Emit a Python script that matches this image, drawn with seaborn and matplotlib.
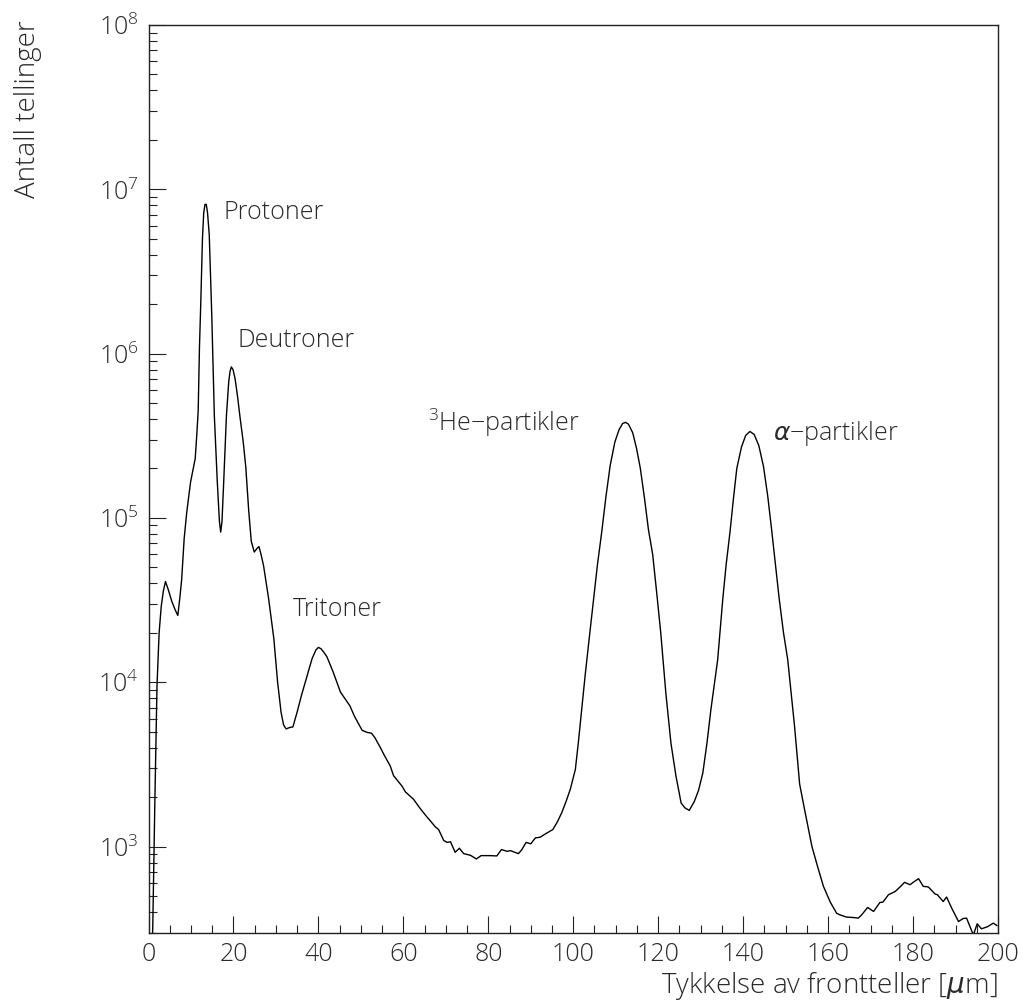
import matplotlib
matplotlib.use("Agg")
import matplotlib.pyplot as plt
import matplotlib.ticker as mticker
import seaborn as sns
import pandas as pd

# ---- data ----
thickness_um = [
    0.5, 1.0, 1.5, 2.0, 2.5, 3.0, 3.5, 4.0, 4.6, 5.5, 6.3, 6.9, 7.4, 7.8, 8.4, 9.0, 9.9,
    11.0, 11.4, 11.7, 12.0, 12.3, 12.7, 13.0, 13.3, 13.6, 13.9, 14.3, 14.9, 15.5, 16.2, 16.7,
    17.0, 17.3, 17.7, 18.35, 18.9, 19.2, 19.5, 19.9, 20.4, 21.0, 21.5, 22.3, 22.9, 23.6, 24.2, 24.9,
    25.5, 26.0, 26.5, 27.1, 28.3, 29.5, 30.4, 31.2, 31.8, 32.4, 33.2, 34.0, 35.0, 36.0,
    36.9, 38.5, 39.4, 40.0, 40.6, 41.3, 42.0, 43.5, 45.2, 47.4, 48.5, 50.3, 51.5, 52.5, 53.3,
    54.6, 55.5, 56.9, 57.7, 59.0, 59.7, 60.5, 62.4, 64.0, 65.5, 66.4, 67.5, 68.3, 69.5,
    70.3, 71.1, 72.2, 73.2, 74.2, 75.8, 77.2, 78.3, 80.5, 82.0, 83.1, 84.4, 85.2, 87.1,
    87.9, 88.9, 90.0, 91.1, 92.2, 93.8, 95.2, 96.3, 97.3, 98.3, 99.3, 100.5, 101.2, 102.0,
    102.8, 103.6, 104.8, 105.7, 106.7, 107.7, 108.7, 109.8, 110.8, 111.6, 112.3, 113.0,
    114.0, 114.9, 115.8, 116.8, 117.7, 118.7, 119.7, 120.6, 121.8, 123.0, 124.2, 125.4,
    126.3, 127.3, 128.5, 129.5, 130.5, 131.5, 132.4, 134.0, 135.2, 136.0, 136.9, 137.7,
    138.5, 139.6, 140.6, 141.6, 142.6, 143.7, 144.8, 145.8, 146.7, 147.5, 148.5, 149.5,
    150.5, 152.1, 153.3, 154.6, 156.2, 157.5, 158.9, 160.5, 162.0, 162.8, 164.4, 166.0,
    167.1, 167.9, 169.3, 170.7, 172.2, 172.9, 174.2, 175.8, 177.0, 178.0, 179.3, 179.8,
    181.3, 182.4, 183.6, 185.2, 185.7, 187.1, 187.9, 189.1, 190.0, 190.7, 191.8, 192.6,
    194.2, 195.1, 196.1, 197.5, 198.9, 199.8,
]
counts = [
    150, 320, 1900, 9500, 20000, 29000, 36000, 41000, 37000, 31000, 27500, 25500, 33000,
    42000, 75000, 108000, 165000,
    230000, 330000, 450000, 1100000, 2000000, 5000000, 7200000, 8100000, 8100000, 7200000,
    5300000, 1700000, 420000, 165000, 95000,
    82000, 95000, 165000, 420000, 680000, 780000, 830000, 800000, 700000, 540000, 420000,
    290000, 205000, 110000, 72000, 62000,
    65000, 67000, 60000, 51000, 32000, 18500, 10000, 6600, 5500, 5200, 5300, 5350, 6600, 8300,
    10000, 13900, 15700, 16300, 16000, 15200, 14300, 11500, 8700, 7200, 6200, 5100, 4950, 4900, 4600,
    4000, 3600, 3100, 2700, 2450, 2330, 2150, 1940, 1700, 1520, 1430, 1320, 1270, 1090,
    1060, 1070, 923, 977, 906, 885, 841, 881, 881, 877, 959, 936, 945, 906,
    959, 1060, 1040, 1130, 1140, 1210, 1270, 1420, 1610, 1880, 2230, 2950, 4300, 6860,
    11000, 17000, 32000, 52000, 82000, 135000, 209000, 290000, 345000, 375000, 382000, 372000,
    330000, 265000, 200000, 130000, 85000, 60000, 34000, 20000, 8600, 4260, 2670, 1840,
    1720, 1660, 1880, 2200, 2800, 4300, 6800, 13700, 32000, 52000, 82000, 130000,
    200000, 270000, 318000, 336000, 322000, 275000, 205000, 135000, 85000, 55000, 32000, 20000,
    13700, 5400, 2400, 1610, 1000, 760, 573, 460, 393, 384, 372, 370,
    367, 384, 426, 403, 457, 459, 509, 533, 570, 606, 586, 600,
    638, 573, 568, 514, 510, 463, 493, 422, 380, 350, 365, 367,
    290, 339, 316, 325, 342, 330,
]
peak_labels = ["Protoner", "Deutroner", "Tritoner", "$^{3}$He\u2212partikler",
               "$\\mathit{\\alpha}$\u2212partikler"]
x_ticks = [0, 20, 40, 60, 80, 100, 120, 140, 160, 180, 200]
x_title = "Tykkelse av frontteller [$\\mathit{\\mu}$m]"
y_title = "Antall tellinger"

df = pd.DataFrame({"x": thickness_um, "y": counts})

sns.set_style("white")
plt.rcParams["font.family"] = ["Open Sans", "DejaVu Sans"]
plt.rcParams["font.weight"] = "light"
plt.rcParams["mathtext.default"] = "regular"
plt.rcParams["mathtext.fontset"] = "dejavusans"
text_color = "#2a2a2a"

fig = plt.figure(figsize=(10.28, 10.05), dpi=100)
ax = fig.add_axes([148.5 / 1028, 1 - 932.5 / 1005, (998 - 148.5) / 1028, (932.5 - 25) / 1005])

sns.lineplot(data=df, x="x", y="y", ax=ax, color="black", linewidth=1.0,
             estimator=None, sort=False)

ax.set_yscale("log")
ax.set_xlim(0, 200)
ax.set_ylim(300, 1e8)

ax.set_xticks(x_ticks)
ax.set_xticklabels([str(t) for t in x_ticks])
ax.xaxis.set_minor_locator(mticker.MultipleLocator(5))
ax.yaxis.set_major_locator(mticker.LogLocator(base=10, numticks=20))
ax.yaxis.set_major_formatter(mticker.LogFormatterMathtext())
ax.yaxis.set_minor_locator(mticker.LogLocator(base=10, subs=range(2, 10), numticks=100))
ax.yaxis.set_minor_formatter(mticker.NullFormatter())

ax.tick_params(which="both", bottom=True, left=True, top=False, right=False)
ax.tick_params(which="major", direction="in", length=12, width=0.8, color="#222222",
               labelsize=18, labelcolor=text_color, pad=7)
ax.tick_params(which="minor", direction="in", length=6, width=0.8, color="#222222")
for s in ax.spines.values():
    s.set_color("#222222")
    s.set_linewidth(1.0)

ax.set_xlabel("")
ax.set_ylabel("")
fig.text(998 / 1028, 1 - 985 / 1005, x_title, ha="right", va="center",
         fontsize=20, color=text_color)
fig.text(28 / 1028, 1 - 20 / 1005, y_title, ha="center", va="top", rotation=90,
         fontsize=20, color=text_color)

label_pos = [(17.6, 7.2e6), (20.9, 1.2e6), (34.1, 2.76e4), (65.7, 3.8e5), (147.0, 3.25e5)]
for lab, (lx, ly) in zip(peak_labels, label_pos):
    ax.text(lx, ly, lab, ha="left", va="center", fontsize=18, color=text_color)

fig.savefig("out.png", dpi=100, facecolor="white")
